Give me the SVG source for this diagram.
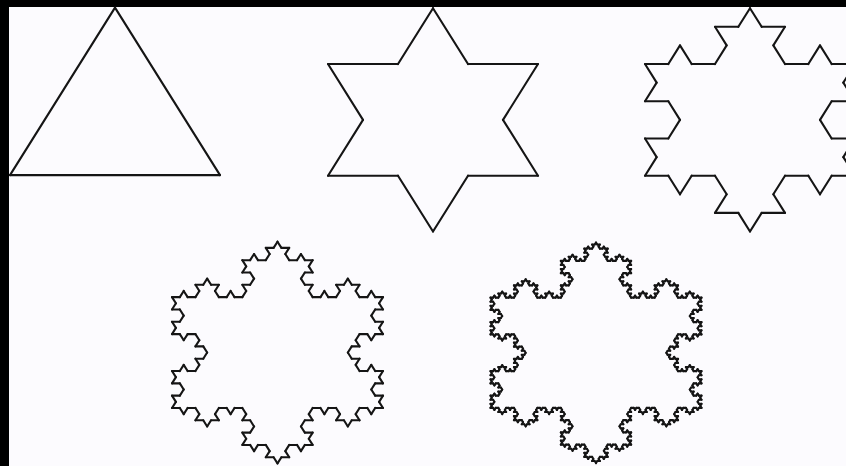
<svg xmlns="http://www.w3.org/2000/svg" xmlns:xlink="http://www.w3.org/1999/xlink" width="846" height="466" viewBox="0 0 846 466">
  <style>
    .seg { stroke: #151515; stroke-width: 2.1; stroke-linecap: round; fill: none; vector-effect: non-scaling-stroke; }
    #level3 .seg, #level4 .seg { stroke-width: 2.2; }
  </style>
  <defs>
    <g id="k0"><line class="seg" x1="0" y1="0" x2="1" y2="0"/></g>
    <g id="k1">
      <use href="#k0" transform="scale(0.333333)"/>
      <use href="#k0" transform="translate(0.333333,0) rotate(-60) scale(0.333333)"/>
      <use href="#k0" transform="translate(0.5,-0.288675) rotate(60) scale(0.333333)"/>
      <use href="#k0" transform="translate(0.666667,0) scale(0.333333)"/>
    </g>
    <g id="k2">
      <use href="#k1" transform="scale(0.333333)"/>
      <use href="#k1" transform="translate(0.333333,0) rotate(-60) scale(0.333333)"/>
      <use href="#k1" transform="translate(0.5,-0.288675) rotate(60) scale(0.333333)"/>
      <use href="#k1" transform="translate(0.666667,0) scale(0.333333)"/>
    </g>
    <g id="k3">
      <use href="#k2" transform="scale(0.333333)"/>
      <use href="#k2" transform="translate(0.333333,0) rotate(-60) scale(0.333333)"/>
      <use href="#k2" transform="translate(0.5,-0.288675) rotate(60) scale(0.333333)"/>
      <use href="#k2" transform="translate(0.666667,0) scale(0.333333)"/>
    </g>
    <g id="k4">
      <use href="#k3" transform="scale(0.333333)"/>
      <use href="#k3" transform="translate(0.333333,0) rotate(-60) scale(0.333333)"/>
      <use href="#k3" transform="translate(0.5,-0.288675) rotate(60) scale(0.333333)"/>
      <use href="#k3" transform="translate(0.666667,0) scale(0.333333)"/>
    </g>
    <g id="s0">
      <use href="#k0" transform="rotate(60)"/>
      <use href="#k0" transform="translate(0.5,0.866025) rotate(180)"/>
      <use href="#k0" transform="translate(-0.5,0.866025) rotate(-60)"/>
    </g>
    <g id="s1">
      <use href="#k1" transform="rotate(60)"/>
      <use href="#k1" transform="translate(0.5,0.866025) rotate(180)"/>
      <use href="#k1" transform="translate(-0.5,0.866025) rotate(-60)"/>
    </g>
    <g id="s2">
      <use href="#k2" transform="rotate(60)"/>
      <use href="#k2" transform="translate(0.5,0.866025) rotate(180)"/>
      <use href="#k2" transform="translate(-0.5,0.866025) rotate(-60)"/>
    </g>
    <g id="s3">
      <use href="#k3" transform="rotate(60)"/>
      <use href="#k3" transform="translate(0.5,0.866025) rotate(180)"/>
      <use href="#k3" transform="translate(-0.5,0.866025) rotate(-60)"/>
    </g>
    <g id="s4">
      <use href="#k4" transform="rotate(60)"/>
      <use href="#k4" transform="translate(0.5,0.866025) rotate(180)"/>
      <use href="#k4" transform="translate(-0.5,0.866025) rotate(-60)"/>
    </g>
  </defs>
  <rect x="0" y="0" width="846" height="466" fill="#fcfbfe"/>
  <rect x="0" y="0" width="846" height="7" fill="#000"/>
  <rect x="0" y="0" width="9" height="466" fill="#000"/>
  <g id="level0"><use href="#s0" transform="translate(115,7.6) scale(210,193.4)"/></g>
  <g id="level1"><use href="#s1" transform="translate(433,8.2) scale(210,193.4)"/></g>
  <g id="level2"><use href="#s2" transform="translate(750,8.2) scale(210,193.4)"/></g>
  <g id="level3"><use href="#s3" transform="translate(277.5,241.7) scale(211,192)"/></g>
  <g id="level4"><use href="#s4" transform="translate(596,242.5) scale(211,191)"/></g>
</svg>
